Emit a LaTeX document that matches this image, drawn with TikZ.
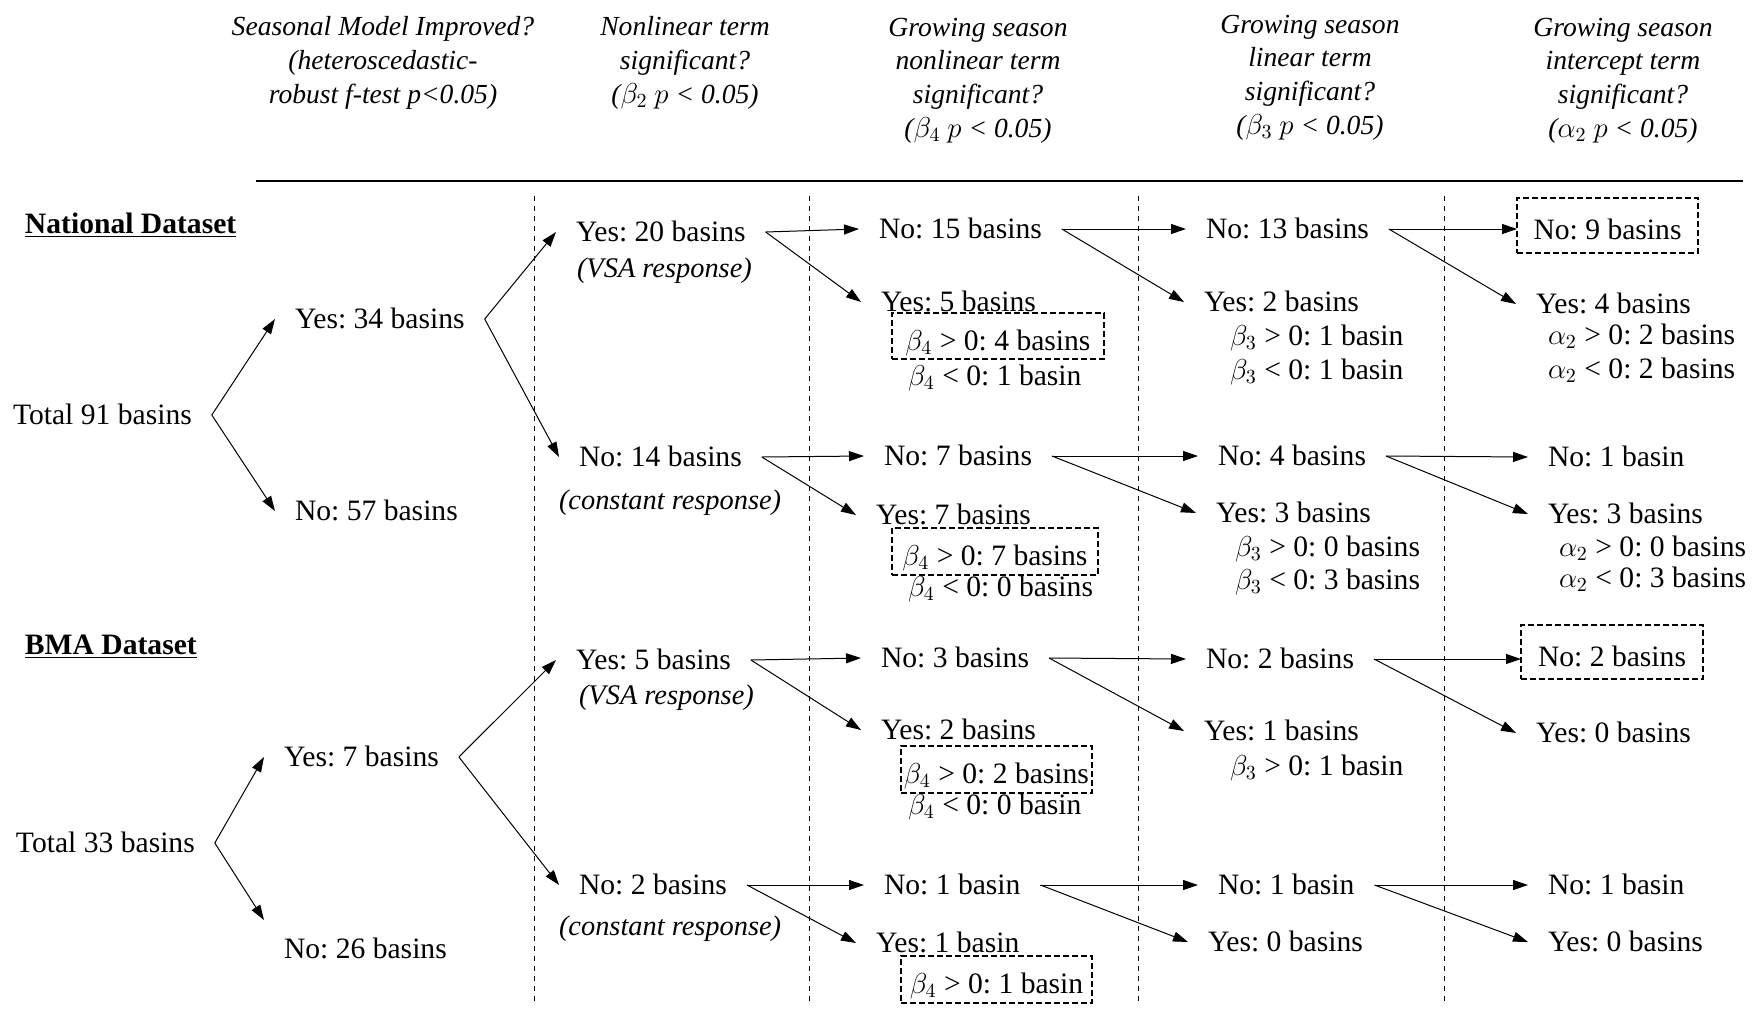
\documentclass[tikz,border=0pt]{standalone}
\usepackage{fontspec}
\setmainfont{Liberation Serif}
\usetikzlibrary{arrows.meta}
\frenchspacing
\newcommand\myBodyFont{\fontsize{14.8pt}{17pt}\selectfont\frenchspacing}
\newcommand\myItFont{\fontsize{14.2pt}{17pt}\selectfont\itshape\frenchspacing}
\newcommand\myHeadFont{\fontsize{13.8pt}{16.8pt}\selectfont\itshape\frenchspacing}
\tikzset{
  lbl/.style={anchor=west, inner xsep=10pt, inner ysep=0pt, outer sep=0pt, font=\myBodyFont, text height=10.5pt, text depth=1.5pt},
  itl/.style={lbl, font=\myItFont},
  hdr/.style={anchor=base, align=center, font=\myHeadFont, inner sep=0pt},
  bx/.style={draw, line width=1pt, dash pattern=on 3pt off 1.5pt, inner sep=0pt, outer sep=0pt, font=\myBodyFont, text height=15.5pt, text depth=1.5pt},
  arr/.style={-{Triangle[length=7.5pt,width=5pt]}, line width=0.5pt},
  vdash/.style={line width=0.4pt, dash pattern=on 2.5pt off 2.5pt},
}
\begin{document}
\begin{tikzpicture}[x=0.5pt,y=-0.5pt]
\useasboundingbox (0,0) rectangle (1754,1013);
% headers (anchored at the baseline of their last line)
\node[hdr] (h1) at (383,103) {Seasonal Model Improved?\\(heteroscedastic-\\robust f-test p<0.05)};
\node[hdr] (h2) at (685,103) {Nonlinear term\\significant?\\($\beta_2$ $p$ < 0.05)};
\node[hdr] (h3) at (978,137) {Growing season\\nonlinear term\\significant?\\($\beta_4$ $p$ < 0.05)};
\node[hdr] (h4) at (1310,134) {Growing season\\linear term\\significant?\\($\beta_3$ $p$ < 0.05)};
\node[hdr] (h5) at (1623,137) {Growing season\\intercept term\\significant?\\($\alpha_2$ $p$ < 0.05)};
% rule and dashed separators
\draw[line width=1.2pt] (256,181) -- (1743,181);
\foreach \xx in {534,809,1138,1444} \draw[vdash] (\xx,196) -- (\xx,1005);
% ---------------- National ----------------
\node[lbl] (ntitle) at (5,224) {\textbf{\underline{National Dataset}}};
\node[lbl] (ntot) at (-7,415) {Total 91 basins};
\node[lbl] (ny34) at (275,319) {Yes: 34 basins};
\node[lbl] (nn57) at (275,511) {No: 57 basins};
\node[lbl] (ny20) at (556,232) {Yes: 20 basins};
\node[itl] (nvsa) at (557,268) {(VSA response)};
\node[lbl] (nn14) at (559,457) {No: 14 basins};
\node[itl] (ncon) at (539,500) {(constant response)};
\node[lbl] (nn15) at (859,229) {No: 15 basins};
\node[lbl] (ny5) at (861,302) {Yes: 5 basins};
\node[bx, minimum width=106pt, minimum height=23pt] (nbx1) at (998,336) {$\beta_4$ > 0: 4 basins};
\node[lbl] (nb4m1) at (888,376) {$\beta_4$ < 0: 1 basin};
\node[lbl] (nn7) at (864,456) {No: 7 basins};
\node[lbl] (ny7) at (856,515) {Yes: 7 basins};
\node[bx, minimum width=103pt, minimum height=23.5pt] (nbx2) at (995,551) {$\beta_4$ > 0: 7 basins};
\node[lbl] (nb4m0) at (888,587) {$\beta_4$ < 0: 0 basins};
\node[lbl] (nn13) at (1186,229) {No: 13 basins};
\node[lbl] (ny2) at (1184,302) {Yes: 2 basins};
\node[lbl] (nb3p1) at (1210,336) {$\beta_3$ > 0: 1 basin};
\node[lbl] (nb3m1) at (1210,370) {$\beta_3$ < 0: 1 basin};
\node[lbl] (nn4) at (1198,456) {No: 4 basins};
\node[lbl] (ny3a) at (1196,513) {Yes: 3 basins};
\node[lbl] (nb3p0) at (1215,547) {$\beta_3$ > 0: 0 basins};
\node[lbl] (nb3m3) at (1215,580) {$\beta_3$ < 0: 3 basins};
\node[bx, minimum width=90.5pt, minimum height=27.5pt] (nn9) at (1607.5,225.5) {No: 9 basins};
\node[lbl] (ny4) at (1516,304) {Yes: 4 basins};
\node[lbl] (na2p2) at (1528,335) {$\alpha_2$ > 0: 2 basins};
\node[lbl] (na2m2) at (1528,369) {$\alpha_2$ < 0: 2 basins};
\node[lbl] (nn1) at (1528,457) {No: 1 basin};
\node[lbl] (ny3b) at (1528,514) {Yes: 3 basins};
\node[lbl] (na2p0) at (1539,547) {$\alpha_2$ > 0: 0 basins};
\node[lbl] (na2m3) at (1539,578) {$\alpha_2$ < 0: 3 basins};
% connectors national
\draw[arr] (ntot.east) -- (ny34.west);
\draw[arr] (ntot.east) -- (nn57.west);
\draw[arr] (ny34.east) -- (ny20.west);
\draw[arr] (ny34.east) -- (nn14.west);
\draw[arr] (ny20.east) -- (nn15.west);
\draw[arr] (ny20.east) -- (ny5.west);
\draw[arr] (nn15.east) -- (nn13.west);
\draw[arr] (nn15.east) -- (ny2.west);
\draw[arr] (nn13.east) -- (nn9.west |- nn13.east);
\draw[arr] (nn13.east) -- (ny4.west);
\draw[arr] (nn14.east) -- (nn7.west);
\draw[arr] (nn14.east) -- (ny7.west);
\draw[arr] (nn7.east) -- (nn4.west);
\draw[arr] (nn7.east) -- (ny3a.west);
\draw[arr] (nn4.east) -- (nn1.west);
\draw[arr] (nn4.east) -- (ny3b.west);
% ---------------- BMA ----------------
\node[lbl] (btitle) at (5,645) {\textbf{\underline{BMA Dataset}}};
\node[lbl] (btot) at (-4,843) {Total 33 basins};
\node[lbl] (by7) at (264,757) {Yes: 7 basins};
\node[lbl] (bn26) at (264,949) {No: 26 basins};
\node[lbl] (by5) at (556,660) {Yes: 5 basins};
\node[itl] (bvsa) at (559,695) {(VSA response)};
\node[lbl] (bn2) at (559,885) {No: 2 basins};
\node[itl] (bcon) at (539,926) {(constant response)};
\node[lbl] (bn3) at (861,658) {No: 3 basins};
\node[lbl] (by2) at (861,730) {Yes: 2 basins};
\node[bx, minimum width=95.5pt, minimum height=23.5pt] (bbx1) at (996.5,769.5) {$\beta_4$ > 0: 2 basins};
\node[lbl] (bb4m0) at (888,805) {$\beta_4$ < 0: 0 basin};
\node[lbl] (bn1) at (864,885) {No: 1 basin};
\node[lbl] (by1) at (856,943) {Yes: 1 basin};
\node[bx, minimum width=95.5pt, minimum height=23.5pt] (bbx2) at (996.5,979.5) {$\beta_4$ > 0: 1 basin};
\node[lbl] (bn2b) at (1186,659) {No: 2 basins};
\node[lbl] (by1b) at (1184,731) {Yes: 1 basins};
\node[lbl] (bb3p1) at (1210,766) {$\beta_3$ > 0: 1 basin};
\node[lbl] (bn1b) at (1198,885) {No: 1 basin};
\node[lbl] (by0a) at (1188,942) {Yes: 0 basins};
\node[bx, minimum width=91pt, minimum height=27pt] (bn2box) at (1612,652) {No: 2 basins};
\node[lbl] (by0b) at (1516,733) {Yes: 0 basins};
\node[lbl] (bn1c) at (1528,885) {No: 1 basin};
\node[lbl] (by0c) at (1528,942) {Yes: 0 basins};
% connectors BMA
\draw[arr] (btot.east) -- (by7.west);
\draw[arr] (btot.east) -- ([yshift=14.5pt]bn26.west);
\draw[arr] (by7.east) -- (by5.west);
\draw[arr] (by7.east) -- (bn2.west);
\draw[arr] (by5.east) -- (bn3.west);
\draw[arr] (by5.east) -- (by2.west);
\draw[arr] (bn3.east) -- (bn2b.west);
\draw[arr] (bn3.east) -- (by1b.west);
\draw[arr] (bn2b.east) -- (bn2box.west |- bn2b.east);
\draw[arr] (bn2b.east) -- (by0b.west);
\draw[arr] (bn2.east) -- (bn1.west);
\draw[arr] (bn2.east) -- (by1.west);
\draw[arr] (bn1.east) -- (bn1b.west);
\draw[arr] (bn1.east) -- (by0a.west);
\draw[arr] (bn1b.east) -- (bn1c.west);
\draw[arr] (bn1b.east) -- (by0c.west);
\end{tikzpicture}
\end{document}
